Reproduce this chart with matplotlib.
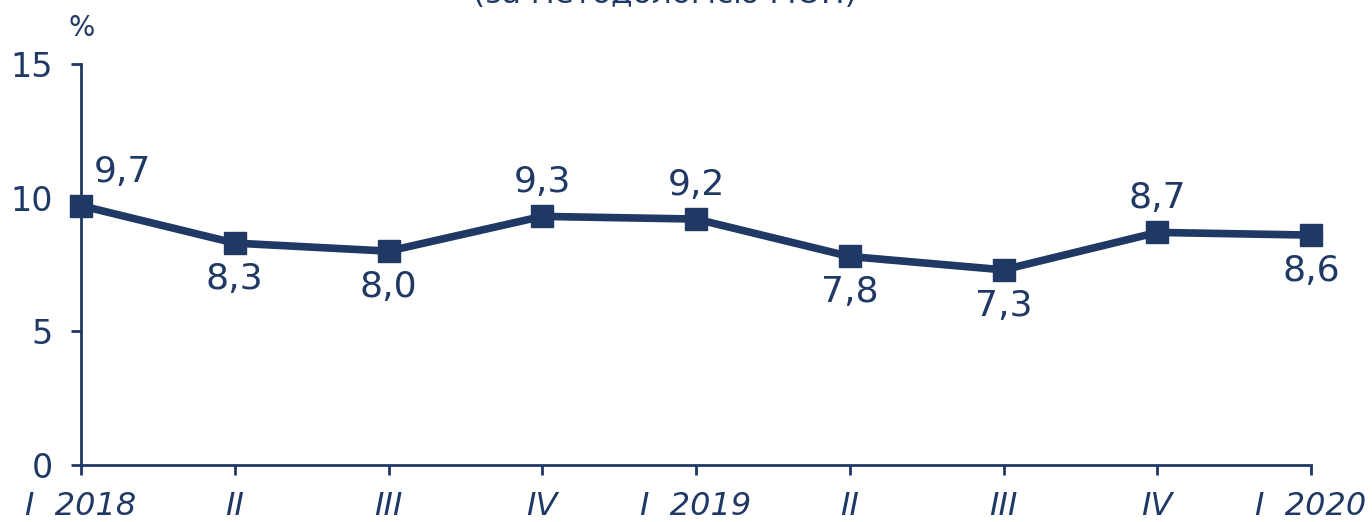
import matplotlib
matplotlib.use("Agg")
import matplotlib.pyplot as plt

quarters = ["I  2018", "II", "III", "IV", "I  2019", "II", "III", "IV", "I  2020"]
values = [9.7, 8.3, 8.0, 9.3, 9.2, 7.8, 7.3, 8.7, 8.6]
labels = ["9,7", "8,3", "8,0", "9,3", "9,2", "7,8", "7,3", "8,7", "8,6"]
label_pos = ["above_right", "below", "below", "above", "above", "below", "below", "above", "below"]
yticks = [0, 5, 10, 15]
title = "(за методологією МОП)"

color = "#1F3864"
plt.rcParams['font.family'] = ['DejaVu Sans']

fig = plt.figure(figsize=(13.72, 5.22), dpi=100)
ax = fig.add_axes([81/1372, 57/522, (1311-81)/1372, (465-64)/522])

x = list(range(len(values)))
ax.plot(x, values, color=color, lw=5.5, marker='s', markersize=16, zorder=3, clip_on=False)

for xi, v, lab, pos in zip(x, values, labels, label_pos):
    if pos == "above_right":
        off = (41, 34)
    elif pos == "above":
        off = (0, 34)
    else:
        off = (0, -36)
    ax.annotate(lab, (xi, v), xytext=(off[0]*0.72, off[1]*0.72), textcoords='offset points',
                ha='center', va='center', fontsize=26, color=color)

ax.set_xlim(0, 8)
ax.set_ylim(0, 15)
ax.set_yticks(yticks)
ax.set_xticks(x)
ax.set_xticklabels(quarters, fontstyle='italic')
for s in ['top', 'right']:
    ax.spines[s].set_visible(False)
for s in ['left', 'bottom']:
    ax.spines[s].set_color(color)
    ax.spines[s].set_linewidth(2)
ax.tick_params(axis='both', colors=color, direction='out', length=7, width=2)
ax.tick_params(axis='y', labelsize=24, pad=13.5)
ax.tick_params(axis='x', labelsize=23, pad=12)

fig.text(82/1372, 1 - 28/522, "%", ha='center', va='center', fontsize=20, color=color)
fig.text(665/1372, 1 - 3/522, title, ha='center', va='baseline', fontsize=22.5, color=color)

fig.savefig("out.png", dpi=100)
